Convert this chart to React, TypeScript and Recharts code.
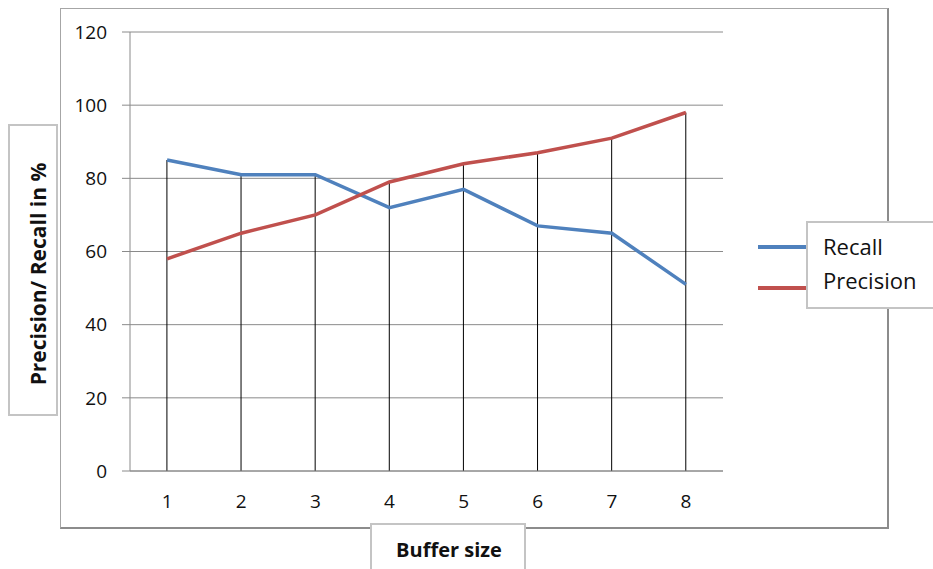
import {
  ComposedChart,
  Bar,
  Line,
  XAxis,
  YAxis,
  CartesianGrid,
} from 'recharts';

const bufferSizes = ['1', '2', '3', '4', '5', '6', '7', '8'];
const recall = [85, 81, 81, 72, 77, 67, 65, 51];
const precision = [58, 65, 70, 79, 84, 87, 91, 98];
const yTicks = [0, 20, 40, 60, 80, 100, 120];

const colors = {
  recall: '#4F81BD',
  precision: '#C0504D',
  grid: '#8a8a8a',
  box: '#c4c4c4',
};

const font = '"Open Sans", sans-serif';

// drop line from the higher of the two points down to the axis
const chartData = bufferSizes.map((size, i) => ({
  size,
  recall: recall[i],
  precision: precision[i],
  top: Math.max(recall[i], precision[i]),
}));

function DropLine(props: any) {
  const { x, y, width, height } = props;
  const cx = x + width / 2;
  return <line x1={cx} x2={cx} y1={y} y2={y + height} stroke="#000" strokeWidth={1} />;
}

const legendItems = [
  { name: 'Recall', color: colors.recall, lineY: 247, textY: 246 },
  { name: 'Precision', color: colors.precision, lineY: 288, textY: 280 },
];

export default function App() {
  return (
    <div
      style={{
        position: 'fixed',
        left: 0,
        top: 0,
        width: 933,
        height: 569,
        overflow: 'hidden',
        background: '#fff',
        fontFamily: font,
      }}
    >
      <div
        style={{
          position: 'absolute',
          left: 60,
          top: 8,
          width: 829,
          height: 521,
          boxSizing: 'border-box',
          borderTop: '1px solid #a6a6a6',
          borderLeft: '1px solid #a6a6a6',
          borderRight: '2px solid #8c8c8c',
          borderBottom: '2px solid #8c8c8c',
        }}
      />
      <div style={{ position: 'absolute', left: 0, top: 0 }}>
        <ComposedChart
          width={933}
          height={569}
          data={chartData}
          margin={{ top: 32, right: 210, left: 70, bottom: 68 }}
        >
          <CartesianGrid vertical={false} stroke={colors.grid} strokeWidth={1} />
          <XAxis
            dataKey="size"
            height={30}
            tickLine={false}
            tickSize={0}
            tickMargin={24}
            axisLine={{ stroke: colors.grid }}
            tick={{ fill: '#111', fontSize: 19, fontFamily: font }}
          />
          <YAxis
            width={60}
            domain={[0, 120]}
            ticks={yTicks}
            interval={0}
            tickSize={8}
            tickMargin={15}
            tickLine={{ stroke: colors.grid }}
            axisLine={{ stroke: colors.grid }}
            tick={{ fill: '#111', fontSize: 19, fontFamily: font }}
          />
          <Bar
            dataKey="top"
            shape={<DropLine />}
            legendType="none"
            isAnimationActive={false}
          />
          <Line
            dataKey="recall"
            stroke={colors.recall}
            strokeWidth={3.5}
            dot={false}
            activeDot={false}
            isAnimationActive={false}
          />
          <Line
            dataKey="precision"
            stroke={colors.precision}
            strokeWidth={3.5}
            dot={false}
            activeDot={false}
            isAnimationActive={false}
          />
        </ComposedChart>
      </div>

      {/* y axis title */}
      <div
        style={{
          position: 'absolute',
          left: 8,
          top: 124,
          width: 50,
          height: 292,
          boxSizing: 'border-box',
          border: `2px solid ${colors.box}`,
          background: '#fff',
        }}
      >
        <div
          style={{
            position: 'absolute',
            left: 28,
            top: 148,
            transform: 'translate(-50%, -50%) rotate(-90deg)',
            whiteSpace: 'nowrap',
            fontWeight: 700,
            fontSize: 21,
            color: '#111',
          }}
        >
          Precision/ Recall in %
        </div>
      </div>

      {/* x axis title */}
      <div
        style={{
          position: 'absolute',
          left: 370,
          top: 523,
          width: 156,
          height: 60,
          boxSizing: 'border-box',
          border: `2px solid ${colors.box}`,
          background: '#fff',
        }}
      >
        <div
          style={{
            position: 'absolute',
            left: 77,
            top: 24,
            transform: 'translate(-50%, -50%)',
            whiteSpace: 'nowrap',
            fontWeight: 700,
            fontSize: 20,
            color: '#111',
          }}
        >
          Buffer size
        </div>
      </div>

      {/* legend */}
      {legendItems.map((d) => (
        <div
          key={d.name}
          style={{
            position: 'absolute',
            left: 758,
            top: d.lineY - 2,
            width: 52,
            height: 4,
            background: d.color,
          }}
        />
      ))}
      <div
        style={{
          position: 'absolute',
          left: 806,
          top: 221,
          width: 140,
          height: 88,
          boxSizing: 'border-box',
          border: `2px solid ${colors.box}`,
          background: '#fff',
        }}
      >
        {legendItems.map((d) => (
          <div
            key={d.name}
            style={{
              position: 'absolute',
              left: 15,
              top: d.textY - 221 - 2,
              transform: 'translateY(-50%)',
              fontSize: 22,
              lineHeight: '26px',
              color: '#111',
              whiteSpace: 'nowrap',
            }}
          >
            {d.name}
          </div>
        ))}
      </div>
    </div>
  );
}
